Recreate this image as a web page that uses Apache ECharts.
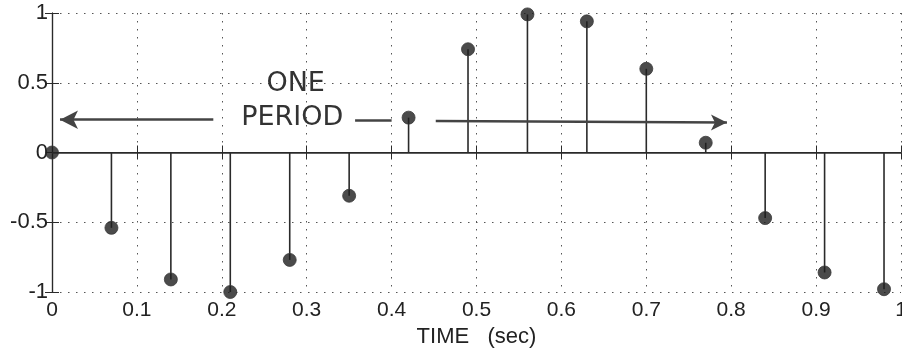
<!DOCTYPE html>
<html><head><meta charset="utf-8">
<script src="https://cdn.jsdelivr.net/npm/echarts@6/dist/echarts.min.js"></script>
<style>html,body{margin:0;padding:0;background:#fff}#c{width:902px;height:348px}</style>
</head><body><div id="c"></div>
<script>
const times = [0, 0.07, 0.14, 0.21, 0.28, 0.35, 0.42, 0.49, 0.56, 0.63, 0.70, 0.77, 0.84, 0.91, 0.98];
const values = [0, -0.54, -0.91, -1.0, -0.77, -0.31, 0.25, 0.74, 0.99, 0.94, 0.60, 0.07, -0.47, -0.86, -0.98];
const xTickLabels = ['0','0.1','0.2','0.3','0.4','0.5','0.6','0.7','0.8','0.9','1'];
const yTickLabels = ['-1','-0.5','0','0.5','1'];
const xLabel = 'TIME   (sec)';
const annText1 = 'ONE';
const annText2 = 'PERIOD';

const ink = '#2a2a2a';
const font = 'Liberation Sans';
const pts = times.map((t, i) => [t, values[i]]);

const chart = echarts.init(document.getElementById('c'));
const gridLine = {show: true, lineStyle: {color: '#555', width: 1, type: [1.5, 6.5]}};
const tickStyle = {show: true, inside: true, length: 7, lineStyle: {color: ink, width: 1}};
chart.setOption({
  animation: false,
  backgroundColor: '#fff',
  grid: {left: 52, right: 1, top: 13, bottom: 56, containLabel: false, outerBoundsMode: 'none'},
  xAxis: [{
    type: 'value', min: 0, max: 1, interval: 0.1,
    axisLine: {show: true, lineStyle: {color: ink, width: 1.2}},
    axisTick: tickStyle,
    splitLine: gridLine,
    axisLabel: {color: '#222', fontFamily: font, fontSize: 21, margin: 8, hideOverlap: false,
      formatter: v => xTickLabels[Math.round(v * 10)]},
    name: xLabel, nameLocation: 'middle', nameGap: 34,
    nameTextStyle: {color: '#222', fontFamily: font, fontSize: 22}
  }, {
    type: 'value', min: 0, max: 1, interval: 0.1, position: 'top',
    axisLine: {show: true, lineStyle: {color: ink, width: 1.2}},
    axisTick: tickStyle, axisLabel: {show: false}, splitLine: {show: false}
  }],
  yAxis: [{
    type: 'value', min: -1, max: 1, interval: 0.5,
    axisLine: {show: true, lineStyle: {color: ink, width: 1.2}},
    axisTick: tickStyle,
    splitLine: gridLine,
    axisLabel: {color: '#222', fontFamily: font, fontSize: 22, margin: 4, hideOverlap: false,
      formatter: v => yTickLabels[Math.round((v + 1) * 2)]}
  }, {
    type: 'value', min: -1, max: 1, interval: 0.5, position: 'right',
    axisLine: {show: true, lineStyle: {color: ink, width: 1.2}},
    axisTick: tickStyle, axisLabel: {show: false}, splitLine: {show: false}
  }],
  series: [{
    type: 'custom',
    data: pts,
    z: 3,
    renderItem: (params, api) => {
      const p0 = api.coord([api.value(0), 0]);
      const p1 = api.coord([api.value(0), api.value(1)]);
      return {type: 'line', shape: {x1: p0[0], y1: p0[1], x2: p1[0], y2: p1[1]},
        style: {stroke: '#2a2a2a', lineWidth: 1.6}};
    }
  }, {
    type: 'scatter',
    data: pts,
    symbol: 'circle', symbolSize: 13, z: 4,
    itemStyle: {color: '#1e1e1e', borderColor: '#3a3a3a', borderWidth: 1}
  }, {
    type: 'line',
    data: [],
    markLine: {
      silent: true, animation: false,
      label: {show: false},
      data: [
        [{coord: [0, 0], symbol: 'none', lineStyle: {color: ink, width: 1.5, type: 'solid'}},
         {coord: [1, 0], symbol: 'none'}],
        [{coord: [0.0094, 0.235], symbol: 'arrow', symbolSize: [14, 18], lineStyle: {color: '#444', width: 2.5, type: 'solid'}},
         {coord: [0.19, 0.235], symbol: 'none'}],
        [{coord: [0.357, 0.23], symbol: 'none', lineStyle: {color: '#444', width: 2.5, type: 'solid'}},
         {coord: [0.40, 0.23], symbol: 'none'}],
        [{coord: [0.452, 0.225], symbol: 'none', lineStyle: {color: '#444', width: 2.5, type: 'solid'}},
         {coord: [0.795, 0.215], symbol: 'arrow', symbolSize: [12, 16]}]
      ]
    },
    markPoint: {
      silent: true, symbol: 'circle', symbolSize: 0,
      data: [
        {coord: [0.287, 0.49], label: {show: true, formatter: annText1, color: '#333', fontFamily: 'DejaVu Sans', fontSize: 27, position: 'inside'}},
        {coord: [0.283, 0.25], label: {show: true, formatter: annText2, color: '#333', fontFamily: 'DejaVu Sans', fontSize: 27, position: 'inside'}}
      ]
    }
  }]
});
</script></body></html>
